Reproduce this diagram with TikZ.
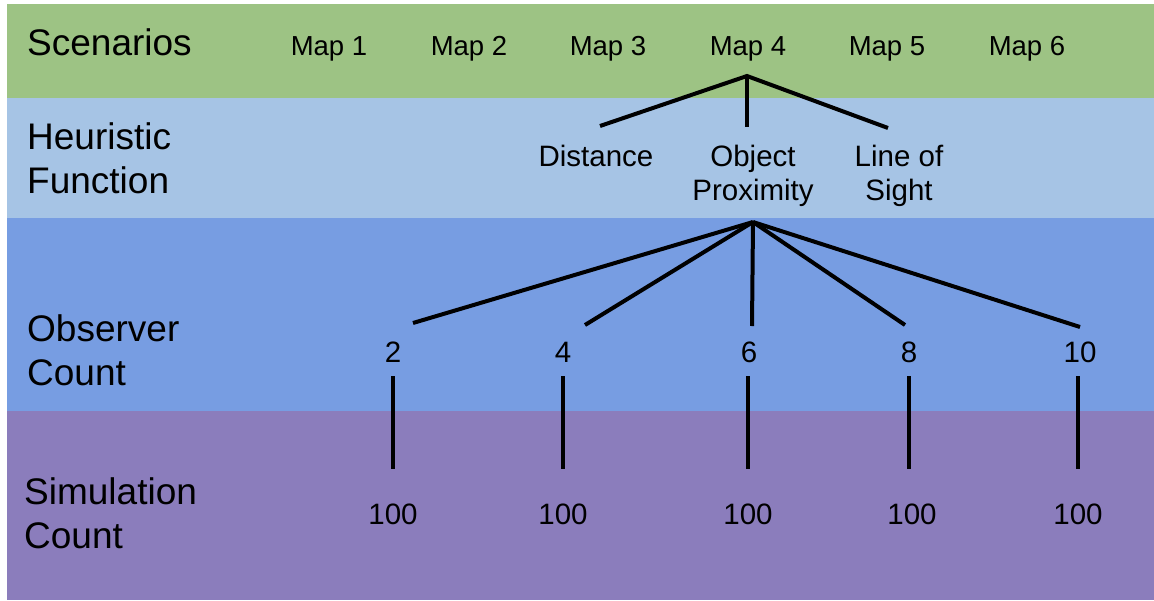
\documentclass[tikz,border=0pt]{standalone}
\usepackage{fontspec}
\setmainfont{Liberation Sans}
\definecolor{bandgreen}{RGB}{157,195,132}
\definecolor{bandlight}{RGB}{166,196,229}
\definecolor{bandblue}{RGB}{119,157,226}
\definecolor{bandpurple}{RGB}{139,125,188}
\tikzset{
  rowlabel/.style={inner sep=0pt, anchor=base west, align=left, font=\fontsize{37}{44}\selectfont},
  maplabel/.style={inner sep=0pt, anchor=base, font=\fontsize{27.5}{33}\selectfont},
  item/.style={inner sep=0pt, anchor=base, align=center, font=\fontsize{29.5}{34}\selectfont},
  link/.style={line width=4pt, black},
}
\begin{document}
\begin{tikzpicture}[x=1pt,y=-1pt]
\useasboundingbox (0,0) rectangle (1154,600);
% bands
\fill[bandgreen] (7,4) rectangle (1154,97.5);
\fill[bandlight] (7,97.5) rectangle (1154,217.5);
\fill[bandblue] (7,217.5) rectangle (1154,411);
\fill[bandpurple] (7,411) rectangle (1154,600);
% row labels (multi-line nodes are placed at the baseline of their last line)
\node[rowlabel] (scen) at (27,55) {Scenarios};
\node[rowlabel] (heur) at (27,193) {Heuristic\\Function};
\node[rowlabel] (obs) at (27,385) {Observer\\Count};
\node[rowlabel] (sim) at (24,548) {Simulation\\Count};
% maps
\node[maplabel] (m1) at (329,55) {Map 1};
\node[maplabel] (m2) at (469,55) {Map 2};
\node[maplabel] (m3) at (608,55) {Map 3};
\node[maplabel] (m4) at (748,55) {Map 4};
\node[maplabel] (m5) at (887,55) {Map 5};
\node[maplabel] (m6) at (1027,55) {Map 6};
% heuristics
\node[item] (dist) at (596,166) {Distance};
\node[item] (prox) at (753,200) {Object\\Proximity};
\node[item] (los) at (899,200) {Line of\\Sight};
% observer counts
\node[item] (o2) at (393,362) {2};
\node[item] (o4) at (563,362) {4};
\node[item] (o6) at (749,362) {6};
\node[item] (o8) at (909,362) {8};
\node[item] (o10) at (1080,362) {10};
% simulation counts
\node[item] (s2) at (393,524) {100};
\node[item] (s4) at (563,524) {100};
\node[item] (s6) at (748,524) {100};
\node[item] (s8) at (912,524) {100};
\node[item] (s10) at (1078,524) {100};
% connector end points
\coordinate (a1) at (747,76);
\coordinate (d1) at (600,126);
\coordinate (p1) at (747,127);
\coordinate (l1) at (888,128);
\coordinate (a2) at (753,222);
\coordinate (e2) at (413,323);
\coordinate (e4) at (585,325);
\coordinate (e6) at (752,326);
\coordinate (e8) at (905,325);
\coordinate (e10) at (1080,327);
\foreach \x/\n in {393/2,563/4,748/6,909/8,1078/10}{
  \coordinate (t\n) at (\x,376);
  \coordinate (b\n) at (\x,469);
}
% connectors
\draw[link] (d1) -- (a1) -- (l1);
\draw[link] (a1) -- (p1);
\foreach \n in {2,4,6,8,10}{
  \draw[link] (a2) -- (e\n);
  \draw[link] (t\n) -- (b\n);
}
\end{tikzpicture}
\end{document}
